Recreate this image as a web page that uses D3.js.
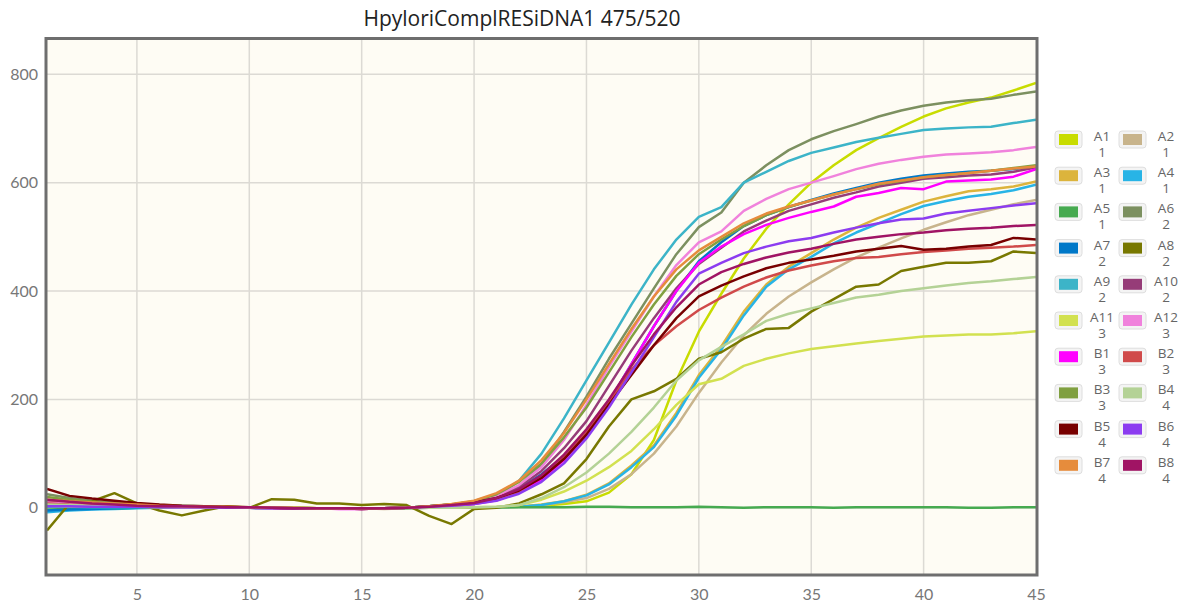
<!DOCTYPE html>
<html>
<head>
<meta charset="utf-8">
<script src="https://cdn.jsdelivr.net/npm/d3@7"></script>
<style>
  html, body { margin: 0; padding: 0; background: #ffffff; }
  svg { display: block; }
</style>
</head>
<body>
<svg id="chart" width="1186" height="603"></svg>
<script>
// Amplification cycles (x categories)
const cycles = [1,2,3,4,5,6,7,8,9,10,11,12,13,14,15,16,17,18,19,20,21,22,23,24,25,26,27,28,29,30,31,32,33,34,35,36,37,38,39,40,41,42,43,44,45];

// Fluorescence per well, cycles 1..45
const A1  = [5,4,3,3,2,2,1,1,1,0,0,0,-1,-1,-1,-1,0, 0,0,0,1,2,4,7,12,28,62,125,235,325,395,460,515,560,600,632,660,682,703,722,737,748,757,770,784];
const A2  = [10,7,5,4,3,2,2,1,1,0,0,0,-1,-1,-1,-2,-1, 0,0,0,1,2,5,10,18,35,62,100,150,212,268,318,358,390,416,440,462,480,497,513,527,540,550,560,568];
const A3  = [12,9,7,5,4,3,2,1,1,0,0,-1,-1,-1,-1,-1,0, 0,0,0,1,2,6,12,24,45,78,115,175,245,298,362,412,445,470,495,517,535,550,565,575,584,588,593,602];
const A4  = [-8,-5,-3,-2,-1,0,0,0,0,0,-1,-1,-1,-1,-1,-1,0, 0,0,0,1,2,5,12,23,43,75,112,170,240,292,355,408,440,463,488,508,525,542,557,566,574,579,586,596];
const A5  = [-3,-2,-1,-1,0,0,0,0,0,0,-1,-1,-1,-1,-1,-1,-1, 0,0,0,1,1,1,1,2,2,1,1,1,2,1,0,1,1,1,0,1,1,1,1,1,0,0,1,1];
const A6  = [25,18,13,10,7,5,4,3,2,1,0,0,-1,-1,-1,-1,0, 1,3,7,18,40,80,140,205,275,340,405,468,518,545,600,632,660,680,695,708,722,733,742,748,752,755,762,768];
const A7  = [-5,-3,-2,-1,0,1,1,1,1,0,0,-1,-1,-1,-1,-1,0, 3,6,10,18,35,62,95,132,195,265,335,400,455,490,520,540,555,568,580,590,600,607,613,617,620,622,625,630];
const A8  = [-42,8,12,27,8,-5,-14,-5,3,0,16,15,8,8,5,7,5, -15,-30,-2,0,8,25,45,90,150,200,215,238,275,287,312,330,332,362,385,408,412,437,445,452,452,455,473,470];
const A9  = [2,2,1,1,1,1,1,0,0,0,-1,-1,-1,-1,-1,-1,0, 3,6,12,22,50,100,165,235,305,375,440,495,537,555,600,620,640,655,665,675,683,690,697,700,702,703,710,716];
const A10 = [12,9,7,5,4,3,2,2,1,0,0,-1,-1,-1,-2,-1,0, 2,5,10,20,38,68,110,160,225,290,350,405,450,480,510,530,548,560,572,582,593,600,607,610,613,615,620,628];
const A11 = [4,3,3,2,2,1,1,1,0,0,0,0,-1,-1,-1,-1,0, 0,0,1,2,5,15,30,50,75,105,145,190,228,238,262,275,285,293,298,303,308,312,316,318,320,320,322,326];
const A12 = [10,8,6,5,4,3,2,1,1,0,0,-1,-1,-1,-1,-1,0, 2,5,10,22,42,75,125,190,260,325,390,448,490,510,548,570,588,600,612,625,635,642,648,652,654,656,660,666];
const B1  = [5,4,3,3,2,2,1,1,1,0,-1,-1,-1,-2,-2,-1,0, 2,4,7,14,28,52,88,135,195,265,335,400,452,482,505,522,535,546,556,574,581,590,588,602,604,606,611,625];
const B2  = [8,6,5,4,3,2,2,1,1,0,0,-1,-1,-1,-1,-1,0, 2,4,8,15,30,58,95,140,195,255,300,335,365,388,408,425,438,447,455,461,463,468,472,475,478,480,482,485];
const B3  = [20,15,11,8,6,4,3,2,1,1,0,0,-1,-1,-1,-1,0, 3,6,12,25,48,82,130,185,250,315,375,428,468,495,520,540,555,567,578,588,597,603,610,614,618,622,627,632];
const B4  = [6,5,4,3,2,2,1,1,1,0,0,0,-1,-1,-1,-1,0, 0,0,1,2,5,18,38,65,100,140,185,235,272,297,320,345,358,368,378,388,393,400,405,410,415,418,422,426];
const B5  = [35,22,17,13,9,6,4,3,2,1,0,-1,-1,-1,-2,-1,0, 3,6,10,18,32,55,90,135,190,245,300,350,390,410,427,442,452,458,465,473,478,483,476,478,482,485,498,495];
const B6  = [3,3,2,2,2,1,1,1,0,0,0,-1,-1,-1,-1,-1,0, 2,4,7,13,26,48,82,128,185,250,315,380,432,452,470,482,492,498,508,517,525,532,534,543,548,553,558,562];
const B7  = [15,12,10,8,6,4,3,2,2,1,0,0,-1,-1,-1,-1,0, 3,7,13,27,50,88,138,200,265,330,390,440,475,500,525,543,556,567,578,588,598,604,610,614,618,622,626,630];
const B8  = [15,11,8,6,4,3,3,2,1,1,0,-1,-1,-1,-1,-1,0, 2,5,9,18,34,60,98,145,200,262,320,370,412,435,450,462,471,478,487,495,500,505,508,512,515,517,520,522];

// Well names, replicate groups and trace colours
const wellNames  = ["A1","A2","A3","A4","A5","A6","A7","A8","A9","A10","A11","A12","B1","B2","B3","B4","B5","B6","B7","B8"];
const wellGroups = ["1","1","1","1","1","2","2","2","2","2","3","3","3","3","3","4","4","4","4","4"];
const wellColors = ["#c8dc00","#c8b48c","#dcb43c","#28b4e6","#46aa50","#7c9060","#0078c8","#787800","#3cb4c8","#963c78",
                    "#d2e150","#f082dc","#ff00ff","#d04a4a","#80a040","#b4d296","#780000","#8c3cf0","#e68c3c","#a01464"];
const wellValues = [A1,A2,A3,A4,A5,A6,A7,A8,A9,A10,A11,A12,B1,B2,B3,B4,B5,B6,B7,B8];

// Axis ticks
const xTicks = [5,10,15,20,25,30,35,40,45];
const yTicks = [0,200,400,600,800];
const chartTitle = "HpyloriComplRESiDNA1 475/520";

const series = wellNames.map((name, i) => ({
  name, group: wellGroups[i], color: wellColors[i],
  points: cycles.map((c, j) => ({ c, v: wellValues[i][j] }))
}));

const svg = d3.select("#chart");
const plot = { left: 47, right: 1036, top: 38.5, bottom: 575 };

const x = d3.scaleLinear().domain([1, 45]).range([plot.left, plot.right]);
const y = d3.scaleLinear().domain([-124, 866]).range([plot.bottom, plot.top]);

// Plot background
svg.append("rect")
  .attr("x", plot.left).attr("y", plot.top)
  .attr("width", plot.right - plot.left).attr("height", plot.bottom - plot.top)
  .attr("fill", "#fefcf4");

// Grid
const grid = svg.append("g");
grid.selectAll("line.vx").data(xTicks.filter(t => t < 45)).join("line")
  .attr("x1", d => x(d)).attr("x2", d => x(d))
  .attr("y1", plot.top).attr("y2", plot.bottom)
  .attr("stroke", "#dcdad4").attr("stroke-width", 1.5);
grid.selectAll("line.hy").data(yTicks).join("line")
  .attr("x1", plot.left).attr("x2", plot.right)
  .attr("y1", d => y(d)).attr("y2", d => y(d))
  .attr("stroke", "#dcdad4").attr("stroke-width", 1.5);

// Traces
const clipId = "plotclip";
svg.append("clipPath").attr("id", clipId).append("rect")
  .attr("x", plot.left).attr("y", plot.top)
  .attr("width", plot.right - plot.left).attr("height", plot.bottom - plot.top);

const line = d3.line().x(d => x(d.c)).y(d => y(d.v));
svg.append("g").attr("clip-path", `url(#${clipId})`)
  .selectAll("path").data(series).join("path")
  .attr("d", d => line(d.points))
  .attr("fill", "none")
  .attr("stroke", d => d.color)
  .attr("stroke-width", 2.5)
  .attr("stroke-linejoin", "round");

// Frame
svg.append("rect")
  .attr("x", plot.left - 1).attr("y", plot.top)
  .attr("width", plot.right - plot.left + 2).attr("height", plot.bottom - plot.top)
  .attr("fill", "none").attr("stroke", "#6e6e6e").attr("stroke-width", 3);

// Axes
const xAxis = d3.axisBottom(x).tickValues(xTicks).tickSize(0).tickPadding(12);
const yAxis = d3.axisLeft(y).tickValues(yTicks).tickSize(0).tickPadding(7);

const gx = svg.append("g").attr("transform", `translate(0,${plot.bottom + 2})`).call(xAxis);
const gy = svg.append("g").attr("transform", `translate(${plot.left - 2},0)`).call(yAxis);
[gx, gy].forEach(g => {
  g.select(".domain").remove();
  g.selectAll("text")
    .attr("fill", "#777")
    .style("font-family", "Lato, 'Noto Sans', sans-serif")
    .style("font-size", "16px");
});

// Title
svg.append("text")
  .attr("x", 522).attr("y", 26)
  .attr("text-anchor", "middle")
  .attr("fill", "#222")
  .style("font-family", "'Open Sans', 'Noto Sans', sans-serif")
  .style("font-size", "21px")
  .text(chartTitle);

// Legend: two columns, ten rows
const legend = svg.append("g");
const legendItems = legend.selectAll("g").data(series).join("g")
  .attr("transform", (d, i) => {
    const col = i % 2, row = Math.floor(i / 2);
    return `translate(${1057 + col * 64},${133 + row * 36.2})`;
  });
legendItems.append("rect")
  .attr("x", -2).attr("y", -2).attr("width", 27).attr("height", 17)
  .attr("rx", 3)
  .attr("fill", "#f4f4f4").attr("stroke", "#dedede").attr("stroke-width", 1);
legendItems.append("rect")
  .attr("x", 2).attr("y", 1).attr("width", 19).attr("height", 11)
  .attr("fill", d => d.color);
legendItems.append("text")
  .attr("x", 45).attr("y", 8)
  .attr("text-anchor", "middle")
  .attr("fill", "#666")
  .style("font-family", "'Open Sans', 'Noto Sans', sans-serif")
  .style("font-size", "13.5px")
  .text(d => d.name);
legendItems.append("text")
  .attr("x", 45).attr("y", 24)
  .attr("text-anchor", "middle")
  .attr("fill", "#666")
  .style("font-family", "'Open Sans', 'Noto Sans', sans-serif")
  .style("font-size", "13.5px")
  .text(d => d.group);
</script>
</body>
</html>
